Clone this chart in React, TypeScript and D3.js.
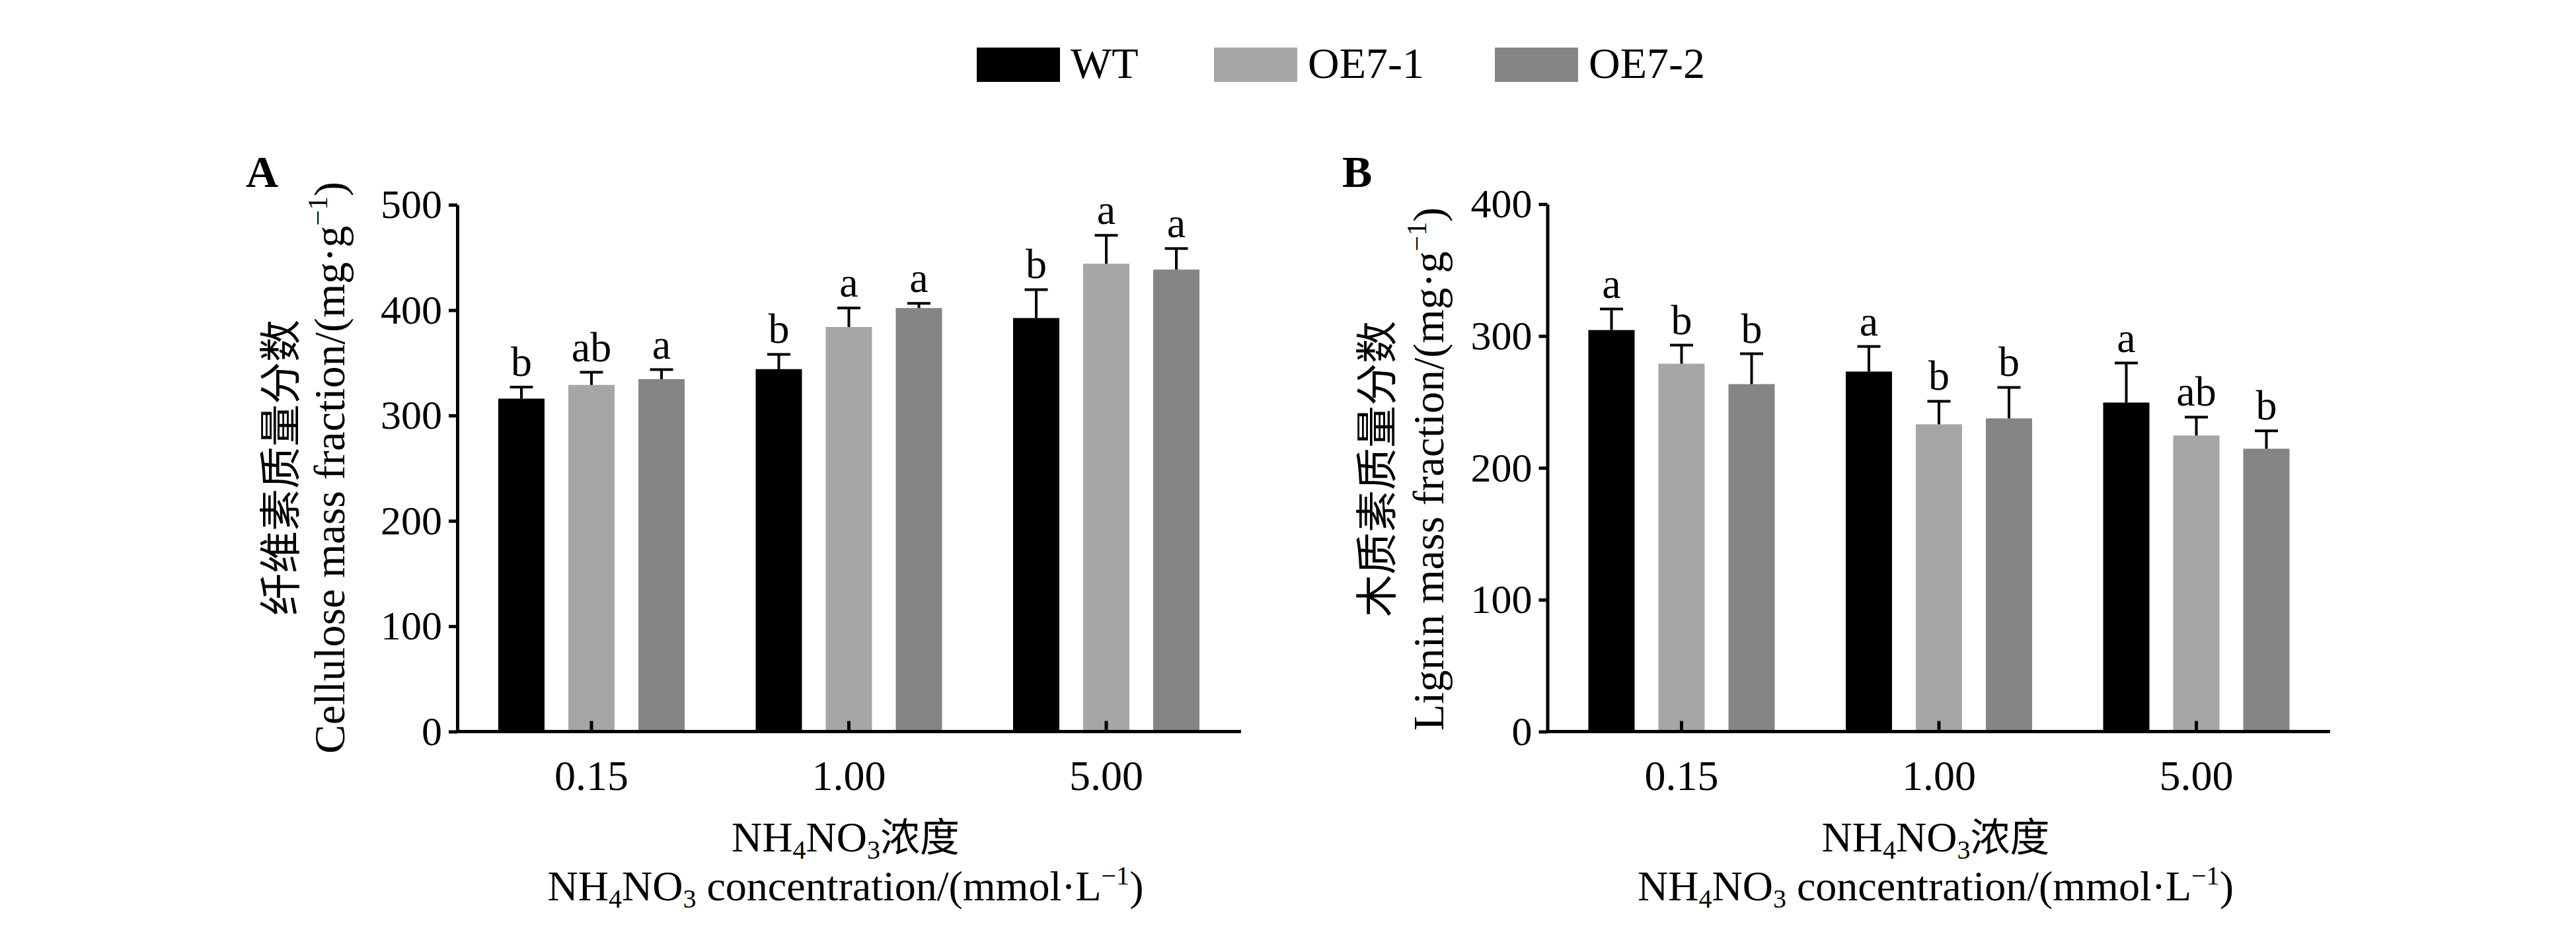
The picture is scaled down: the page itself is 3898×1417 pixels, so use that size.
import React, { useRef, useEffect } from "react";
import * as d3 from "d3";

const categories = ["0.15", "1.00", "5.00"];
const series = ["WT", "OE7-1", "OE7-2"];
const colors = ["#000000", "#a6a6a6", "#858585"];

// panel A: cellulose
const celluloseWT = [316, 344, 392.5];
const celluloseOE1 = [329, 384, 444];
const celluloseOE2 = [334.5, 402, 438.5];
const celluloseErrWT = [11, 14, 27];
const celluloseErrOE1 = [12, 18, 27];
const celluloseErrOE2 = [9, 4.5, 20];
const celluloseLetters = [["b", "b", "b"], ["ab", "a", "a"], ["a", "a", "a"]];
const celluloseTicks = [0, 100, 200, 300, 400, 500];

// panel B: lignin
const ligninWT = [304.5, 273, 249.5];
const ligninOE1 = [279, 233, 224.5];
const ligninOE2 = [263.5, 237.5, 214.5];
const ligninErrWT = [16, 19, 30];
const ligninErrOE1 = [14, 17.5, 14];
const ligninErrOE2 = [23, 23.5, 13.5];
const ligninLetters = [["a", "a", "a"], ["b", "b", "ab"], ["b", "b", "b"]];
const ligninTicks = [0, 100, 200, 300, 400];

const SERIF = "'Liberation Serif', 'Times New Roman', 'Noto Sans CJK SC', serif";

interface Panel {
  tag: string;
  x0: number;
  x1: number;
  yTop: number;
  yBottom: number;
  max: number;
  ticks: number[];
  values: number[][];
  errors: number[][];
  letters: string[][];
  cn: string;
  en: string;
  lab1: number;
  lab2: number;
  labY: number;
  tagX: number;
}

export default function App() {
  const ref = useRef<SVGSVGElement>(null);

  useEffect(() => {
    if (!ref.current) return;
    const svg = d3.select(ref.current);
    svg.selectAll("*").remove();

    const panels: Panel[] = [
      {
        tag: "A", x0: 692, x1: 1878, yTop: 310, yBottom: 1107.5, max: 500,
        ticks: celluloseTicks,
        values: [celluloseWT, celluloseOE1, celluloseOE2],
        errors: [celluloseErrWT, celluloseErrOE1, celluloseErrOE2],
        letters: celluloseLetters,
        cn: "纤维素质量分数", en: "Cellulose mass fraction/(mg·g",
        lab1: 447, lab2: 521, labY: 708, tagX: 372,
      },
      {
        tag: "B", x0: 2341.5, x1: 3526, yTop: 309, yBottom: 1107.5, max: 400,
        ticks: ligninTicks,
        values: [ligninWT, ligninOE1, ligninOE2],
        errors: [ligninErrWT, ligninErrOE1, ligninErrOE2],
        letters: ligninLetters,
        cn: "木质素质量分数", en: "Lignin mass fraction/(mg·g",
        lab1: 2106, lab2: 2184, labY: 710, tagX: 2031,
      },
    ];

    panels.forEach((p) => {
      const g = svg.append("g");
      const x = d3.scaleBand<string>().domain(categories).range([p.x0 + 8.25, p.x0 + 1176.75]).padding(0);
      const xs = d3.scaleBand<string>().domain(series).range([-141, 141]).paddingInner(36 / 106).paddingOuter(0);
      const y = d3.scaleLinear().domain([0, p.max]).range([p.yBottom, p.yTop]);
      const cx = (c: string) => (x(c) as number) + x.bandwidth() / 2;

      // bars, error bars, letters
      series.forEach((s, si) => {
        categories.forEach((c, ci) => {
          const v = p.values[si][ci];
          const e = p.errors[si][ci];
          const bx = cx(c) + (xs(s) as number);
          const mx = bx + xs.bandwidth() / 2;
          g.append("rect")
            .attr("x", bx).attr("y", y(v))
            .attr("width", xs.bandwidth()).attr("height", y(0) - y(v))
            .attr("fill", colors[si]);
          g.append("line")
            .attr("x1", mx).attr("x2", mx).attr("y1", y(v)).attr("y2", y(v + e))
            .attr("stroke", "#000").attr("stroke-width", 4);
          g.append("line")
            .attr("x1", mx - 17.5).attr("x2", mx + 17.5).attr("y1", y(v + e)).attr("y2", y(v + e))
            .attr("stroke", "#000").attr("stroke-width", 4);
          g.append("text")
            .attr("x", mx).attr("y", y(v + e) - 17)
            .attr("text-anchor", "middle")
            .attr("font-family", SERIF).attr("font-size", 64)
            .text(p.letters[si][ci]);
        });
      });

      // y axis
      const ya = g.append("g").attr("transform", `translate(${p.x0},0)`)
        .call(d3.axisLeft(y).tickValues(p.ticks).tickSizeInner(13).tickSizeOuter(0).tickPadding(10).tickFormat(d3.format("d")));
      ya.select(".domain").attr("stroke-width", 5);
      ya.selectAll(".tick line").attr("stroke-width", 5);
      ya.selectAll(".tick text").attr("font-family", SERIF).attr("font-size", 62).attr("fill", "#000");

      // x axis
      const xa = g.append("g").attr("transform", `translate(0,${p.yBottom})`)
        .call(d3.axisBottom(x).tickSizeInner(-16).tickSizeOuter(0).tickPadding(43));
      xa.select(".domain").remove();
      xa.selectAll(".tick line").attr("stroke-width", 5);
      xa.selectAll(".tick text").attr("font-family", SERIF).attr("font-size", 64).attr("fill", "#000");
      g.append("line")
        .attr("x1", p.x0 - 2.5).attr("x2", p.x1).attr("y1", p.yBottom).attr("y2", p.yBottom)
        .attr("stroke", "#000").attr("stroke-width", 5);

      // x title, two lines
      const tx = cx(categories[1]) - 5;
      const t1 = g.append("text").attr("x", tx).attr("y", 1289).attr("text-anchor", "middle")
        .attr("font-family", SERIF).attr("font-size", 64);
      t1.append("tspan").text("NH");
      t1.append("tspan").attr("font-size", 40).attr("dy", 11).text("4");
      t1.append("tspan").attr("dy", -11).text("NO");
      t1.append("tspan").attr("font-size", 40).attr("dy", 11).text("3");
      t1.append("tspan").attr("dy", -11).attr("font-family", "'Noto Sans CJK SC', sans-serif").attr("font-size", 60).text("浓度");

      const t2 = g.append("text").attr("x", tx).attr("y", 1363).attr("text-anchor", "middle")
        .attr("font-family", SERIF).attr("font-size", 64);
      t2.append("tspan").text("NH");
      t2.append("tspan").attr("font-size", 40).attr("dy", 11).text("4");
      t2.append("tspan").attr("dy", -11).text("NO");
      t2.append("tspan").attr("font-size", 40).attr("dy", 11).text("3");
      t2.append("tspan").attr("dy", -11).text(" concentration/(mmol·L");
      t2.append("tspan").attr("font-size", 40).attr("dy", -24).text("−1");
      t2.append("tspan").attr("dy", 24).text(")");

      // y title, two rotated lines
      g.append("text")
        .attr("transform", `translate(${p.lab1},${p.labY}) rotate(-90)`)
        .attr("text-anchor", "middle")
        .attr("font-family", "'Noto Sans CJK SC', sans-serif").attr("font-size", 64)
        .text(p.cn);
      const yt = g.append("text")
        .attr("transform", `translate(${p.lab2},${p.labY}) rotate(-90)`)
        .attr("text-anchor", "middle")
        .attr("font-family", SERIF).attr("font-size", 66);
      yt.append("tspan").text(p.en);
      yt.append("tspan").attr("font-size", 42).attr("dy", -26).text("−1");
      yt.append("tspan").attr("dy", 26).text(")");

      // panel tag
      g.append("text").attr("x", p.tagX).attr("y", 283)
        .attr("font-family", SERIF).attr("font-size", 68).attr("font-weight", "bold")
        .text(p.tag);
    });

    // legend
    const legendX = [1478, 1837, 2262];
    const lg = svg.append("g");
    series.forEach((s, i) => {
      lg.append("rect").attr("x", legendX[i]).attr("y", 72).attr("width", 126).attr("height", 52).attr("fill", colors[i]);
      lg.append("text").attr("x", legendX[i] + 142).attr("y", 118)
        .attr("font-family", SERIF).attr("font-size", 66).text(s);
    });
  }, []);

  return (
    <div style={{ position: "absolute", left: 0, top: 0, background: "#fff" }}>
      <svg ref={ref} width={3898} height={1417} style={{ display: "block" }} />
    </div>
  );
}
